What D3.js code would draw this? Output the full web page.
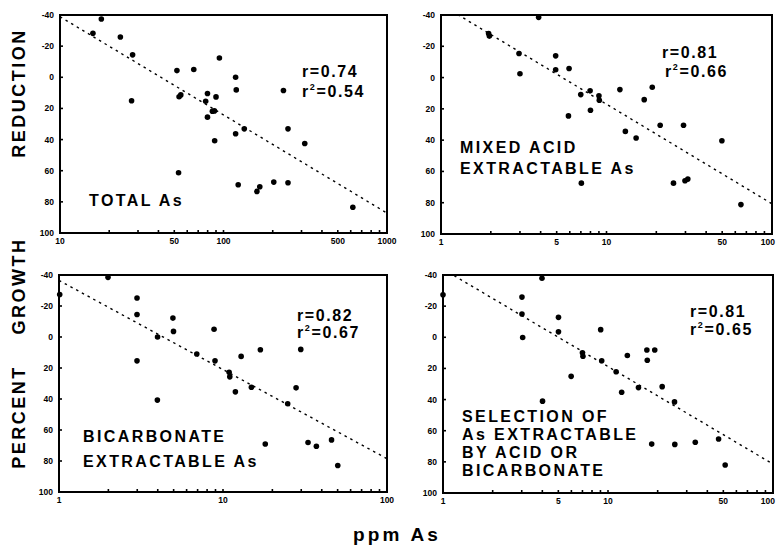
<!DOCTYPE html>
<html>
<head>
<meta charset="utf-8">
<script src="https://cdn.jsdelivr.net/npm/d3@7"></script>
<style>
  html, body { margin: 0; padding: 0; background: #fff; }
  svg { display: block; }
  text { font-family: "Liberation Sans", Arial, sans-serif; font-weight: bold; fill: #000; }
</style>
</head>
<body>
<svg id="chart" width="776" height="547"></svg>
<script>
// ---- data: percent growth reduction vs. arsenic concentration (ppm) ----
const totalPpm = [15.9, 17.9, 23.4, 27.8, 27.4, 51.9, 65.8, 94.4, 118.6, 119.7, 54.8, 53.5, 79.8, 90, 77.8, 85.5, 88, 79.8, 134, 118.6, 88.3, 248, 232.6, 314, 53.1, 123, 160, 166.7, 203, 248, 618];
const totalRed = [-28.2, -37.4, -25.9, -14.4, 15.1, -4.3, -5.0, -12.4, 0, 8.1, 11.3, 12.5, 10.4, 12.6, 15.4, 21.8, 21.6, 25.6, 33.1, 36.3, 40.8, 33.1, 8.5, 42.5, 61.3, 69, 73.3, 70.3, 67.3, 67.7, 83.5];

const mixedPpm = [1.94, 1.96, 3.89, 2.96, 3.0, 4.93, 4.93, 5.94, 5.89, 6.99, 7.96, 9.0, 9.05, 8.0, 7.05, 12.05, 13.0, 15.1, 16.9, 18.9, 21.1, 29.2, 25.4, 29.8, 31, 49.8, 64.9];
const mixedRed = [-28.2, -26.5, -38.5, -15.4, -2.4, -13.9, -5, -5.8, 24.5, 10.9, 8.5, 11.7, 14.5, 20.9, 67.5, 7.7, 34.4, 38.6, 14.1, 6.2, 30.5, 30.5, 67.5, 66, 64.9, 40.4, 81.2];

const bicPpm = [1.01, 1.99, 2.99, 2.99, 2.99, 3.99, 3.98, 4.95, 4.99, 6.92, 8.82, 8.94, 10.9, 11.0, 11.9, 12.9, 14.9, 16.9, 18.1, 24.8, 27.9, 29.8, 33, 37.1, 45.9, 50.1];
const bicRed = [-27.4, -38.5, -25.2, -14.5, 15.4, 0, 40.7, -12.2, -3.6, 11, -5, 15.4, 22.7, 25.7, 35.4, 12.5, 32.4, 8.2, 69, 43.1, 32.8, 8, 68.1, 70.5, 66.4, 82.9];

const selPpm = [1.0, 3.01, 3.01, 3.04, 3.98, 4.01, 5.01, 5.01, 5.98, 7.0, 7.05, 9.03, 9.16, 11.2, 12.1, 13.1, 15.3, 17.2, 19.2, 17.3, 18.4, 21.3, 25.3, 25.4, 33.8, 46.8, 51.3];
const selRed = [-27.3, -25.8, -15, 0.1, -37.9, 41, -12.8, -3.5, 25.1, 9.9, 12.2, -4.9, 15.1, 22.1, 35.3, 11.7, 32.3, 8.2, 8.2, 14.7, 68.6, 31.7, 41.5, 68.8, 67.4, 65.3, 82];

// regression lines: reduction = intercept + slope * log10(ppm)
const fitIntercept = [-101.95, -46.7, -36.5, -43.8];
const fitSlope = [63.05, 63.7, 57.5, 62.6];

const rValues = ["0.74", "0.81", "0.82", "0.81"];
const r2Values = ["0.54", "0.66", "0.67", "0.65"];

const xDomains = [[10, 1000], [1, 100], [1, 100], [1, 100]];
const xTickLabels = [[10, 50, 100, 500, 1000], [1, 5, 10, 50, 100], [1, 10, 100], [1, 5, 10, 50, 100]];
const yTickLabels = [-40, -20, 0, 20, 40, 60, 80, 100];

const captions = [
  ["TOTAL As"],
  ["MIXED ACID", "EXTRACTABLE As"],
  ["BICARBONATE", "EXTRACTABLE As"],
  ["SELECTION OF", "As EXTRACTABLE", "BY ACID OR", "BICARBONATE"]
];

// ---- layout ----
const W = 776;
const panels = [
  { x0: 60,  x1: 387, y0: 15,  y1: 233, px: totalPpm, py: totalRed,
    rPos: [302, 77], r2Pos: [302, 97], capPos: [89, 206], capGap: 20 },
  { x0: 441, x1: 772, y0: 15,  y1: 234, px: mixedPpm, py: mixedRed,
    rPos: [662, 58], r2Pos: [665, 77], capPos: [460, 153], capGap: 21 },
  { x0: 59,  x1: 387, y0: 275, y1: 492, px: bicPpm, py: bicRed,
    rPos: [297, 321], r2Pos: [297, 338], capPos: [83, 442], capGap: 25 },
  { x0: 443, x1: 773, y0: 275, y1: 493, px: selPpm, py: selRed,
    rPos: [690, 317], r2Pos: [690, 335], capPos: [462, 422], capGap: 18 }
];

const svg = d3.select("#chart");
svg.append("rect").attr("width", W).attr("height", 547).attr("fill", "#fff");

panels.forEach((p, i) => {
  const x = d3.scaleLog().domain(xDomains[i]).range([p.x0, p.x1]);
  const y = d3.scaleLinear().domain([-40, 100]).range([p.y0, p.y1]);
  const g = svg.append("g");

  const clipId = "clip" + i;
  svg.append("clipPath").attr("id", clipId)
    .append("rect")
    .attr("x", p.x0).attr("y", p.y0)
    .attr("width", p.x1 - p.x0).attr("height", p.y1 - p.y0);

  // minor log ticks along the bottom edge, pointing inward
  const [d0, d1] = xDomains[i];
  const minor = [];
  for (let dec = d0; dec < d1; dec *= 10) {
    for (let m = 1; m <= 9; m++) minor.push(dec * m);
  }
  minor.push(d1);
  g.selectAll(".xtick").data(minor).join("line")
    .attr("x1", d => x(d)).attr("x2", d => x(d))
    .attr("y1", p.y1).attr("y2", p.y1 - 3)
    .attr("stroke", "#000").attr("stroke-width", 1.6);

  // x tick labels (the last one is pulled inside the page edge)
  g.selectAll(".xlab").data(xTickLabels[i]).join("text")
    .attr("x", d => x(d) + 9 > W ? W - 1 : x(d))
    .attr("y", p.y1 + 11)
    .attr("text-anchor", d => x(d) + 9 > W ? "end" : "middle")
    .attr("font-size", 8.5)
    .text(d => d);

  // y ticks and labels
  g.selectAll(".ytick").data(yTickLabels).join("line")
    .attr("x1", p.x0).attr("x2", p.x0 + 3)
    .attr("y1", d => y(d)).attr("y2", d => y(d))
    .attr("stroke", "#000").attr("stroke-width", 1.6);
  g.selectAll(".ylab").data(yTickLabels).join("text")
    .attr("x", p.x0 - 6).attr("y", d => y(d))
    .attr("dy", "0.35em")
    .attr("text-anchor", "end")
    .attr("font-size", 8.5)
    .text(d => d);

  // regression line
  const lineData = [d0, d1].map(v => ({ x: v, y: fitIntercept[i] + fitSlope[i] * Math.log10(v) }));
  g.append("path")
    .datum(lineData)
    .attr("clip-path", `url(#${clipId})`)
    .attr("d", d3.line().x(d => x(d.x)).y(d => y(d.y)))
    .attr("fill", "none")
    .attr("stroke", "#000")
    .attr("stroke-width", 1.4)
    .attr("stroke-dasharray", "2.5,4");

  // points
  g.selectAll(".pt").data(p.px.map((v, k) => [v, p.py[k]])).join("circle")
    .attr("cx", d => x(d[0])).attr("cy", d => y(d[1]))
    .attr("r", 2.8).attr("fill", "#000");

  // frame
  g.append("rect")
    .attr("x", p.x0).attr("y", p.y0)
    .attr("width", p.x1 - p.x0).attr("height", p.y1 - p.y0)
    .attr("fill", "none").attr("stroke", "#000").attr("stroke-width", 2);

  // correlation annotations
  g.append("text")
    .attr("x", p.rPos[0]).attr("y", p.rPos[1])
    .attr("font-size", 16).attr("letter-spacing", 1.6)
    .text("r=" + rValues[i]);
  const t2 = g.append("text")
    .attr("x", p.r2Pos[0]).attr("y", p.r2Pos[1])
    .attr("font-size", 16).attr("letter-spacing", 1.6);
  t2.append("tspan").text("r");
  t2.append("tspan").attr("font-size", 9).attr("dy", -7).text("2");
  t2.append("tspan").attr("dy", 7).text("=" + r2Values[i]);

  // caption
  g.selectAll(".cap").data(captions[i]).join("text")
    .attr("x", p.capPos[0])
    .attr("y", (d, k) => p.capPos[1] + k * p.capGap)
    .attr("font-size", 16).attr("letter-spacing", 2.4)
    .text(d => d);
});

// shared axis titles
const yTitle = [["REDUCTION", 93], ["GROWTH", 286], ["PERCENT", 417]];
svg.selectAll(".ytitle").data(yTitle).join("text")
  .attr("transform", d => `translate(25,${d[1]}) rotate(-90)`)
  .attr("text-anchor", "middle")
  .attr("font-size", 18).attr("letter-spacing", 2.5)
  .text(d => d[0]);

svg.append("text")
  .attr("x", 397).attr("y", 541)
  .attr("text-anchor", "middle")
  .attr("font-size", 19).attr("letter-spacing", 3.2)
  .text("ppm As");
</script>
</body>
</html>
